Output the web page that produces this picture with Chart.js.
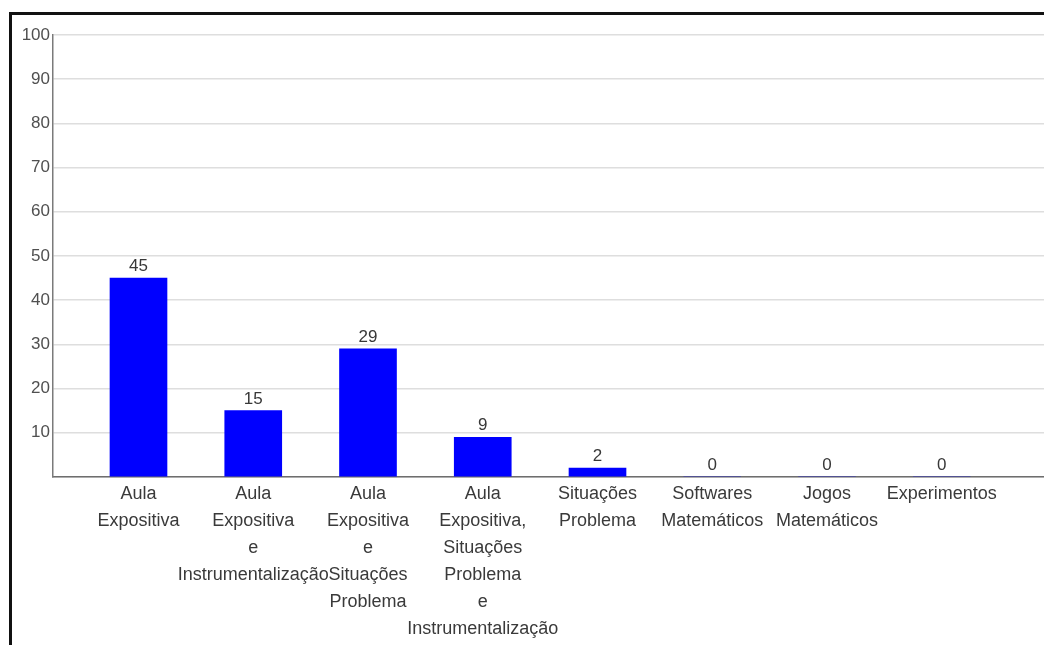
<!DOCTYPE html>
<html>
<head>
<meta charset="utf-8">
<script src="https://cdn.jsdelivr.net/npm/chart.js@4.4.1/dist/chart.umd.min.js"></script>
<style>
  html, body { margin: 0; padding: 0; background: #fff; overflow: hidden; }
  #wrap { position: relative; width: 1044px; height: 645px; }
  #frame { position: absolute; left: 9px; top: 12px; width: 1100px; height: 700px;
           border-top: 3px solid #111; border-left: 3px solid #111; pointer-events: none; }
  canvas { position: absolute; left: 0; top: 0; }
</style>
</head>
<body>
<div id="wrap">
  <canvas id="c" width="1044" height="645"></canvas>
  <div id="frame"></div>
</div>
<script>
const categories = [
  ["Aula", "Expositiva"],
  ["Aula", "Expositiva", "e", "Instrumentalização"],
  ["Aula", "Expositiva", "e", "Situações", "Problema"],
  ["Aula", "Expositiva,", "Situações", "Problema", "e", "Instrumentalização"],
  ["Situações", "Problema"],
  ["Softwares", "Matemáticos"],
  ["Jogos", "Matemáticos"],
  ["Experimentos"]
];
const values = [45, 15, 29, 9, 2, 0, 0, 0];
const yTicks = [10, 20, 30, 40, 50, 60, 70, 80, 90, 100];

const FONT = "'Liberation Sans', Arial, sans-serif";

const valueLabels = {
  id: 'valueLabels',
  afterDatasetsDraw(chart) {
    const ctx = chart.ctx;
    const meta = chart.getDatasetMeta(0);
    ctx.save();
    ctx.font = "17px " + FONT;
    ctx.fillStyle = '#383838';
    ctx.textAlign = 'center';
    ctx.textBaseline = 'alphabetic';
    meta.data.forEach((bar, i) => {
      ctx.fillText(String(values[i]), bar.x, bar.y - 7);
    });
    ctx.restore();
  }
};

new Chart(document.getElementById('c'), {
  type: 'bar',
  data: {
    datasets: [{
      data: values.map((v, i) => ({ x: i, y: v })),
      backgroundColor: '#0000ff',
      borderWidth: 0,
      barThickness: 57
    }]
  },
  options: {
    responsive: false,
    animation: false,
    events: [],
    layout: { padding: { top: 35, left: 0, right: 0, bottom: 0 } },
    plugins: { legend: { display: false }, tooltip: { enabled: false } },
    scales: {
      x: {
        type: 'linear',
        offset: false,
        min: -0.745,
        max: 7.891,
        afterBuildTicks: (scale) => { scale.ticks = categories.map((_, i) => ({ value: i })); },
        afterFit: (scale) => { scale.height = 168; },
        grid: { display: false, drawTicks: false, offset: false },
        border: { display: true, color: '#6e6e6e', width: 1.5 },
        ticks: {
          autoSkip: false,
          maxRotation: 0,
          minRotation: 0,
          padding: 4,
          color: '#3a3a3a',
          font: { family: FONT, size: 18, lineHeight: '27px' },
          callback: (value) => categories[value]
        }
      },
      y: {
        min: 0,
        max: 100,
        afterBuildTicks: (scale) => { scale.ticks = [{ value: 0 }].concat(yTicks.map(v => ({ value: v }))); },
        afterFit: (scale) => { scale.width = 53; },
        grid: { color: '#dedede', lineWidth: 1.5, drawTicks: false },
        border: { display: true, color: '#7a7a7a', width: 1.5 },
        ticks: {
          padding: 3,
          color: '#505050',
          font: { family: FONT, size: 17 },
          callback: (value) => value === 0 ? '' : String(value)
        }
      }
    }
  },
  plugins: [valueLabels]
});
</script>
</body>
</html>
